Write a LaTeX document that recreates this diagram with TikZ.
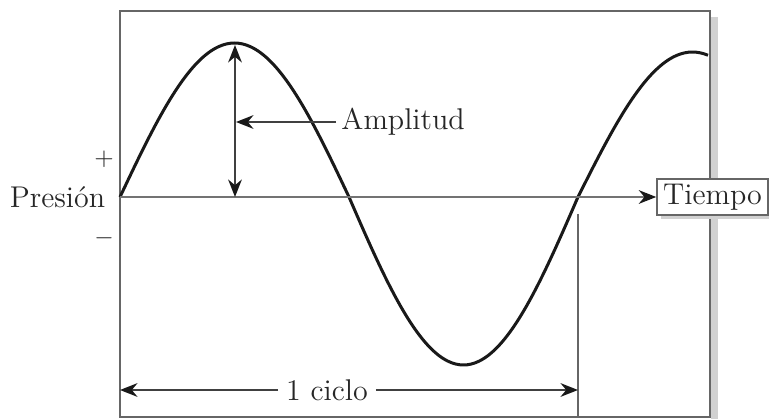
\documentclass[tikz,border=0pt]{standalone}
\usepackage{tikz}
\usetikzlibrary{arrows.meta,positioning,calc}

\begin{document}
\begin{tikzpicture}[
    x=0.4pt, y=-0.4pt,
    every node/.style={font=\fontsize{12}{14}\selectfont, text=black!85},
    frame/.style={draw=black!60, line width=0.8pt},
    shadow/.style={fill=black!18, draw=none},
    wave/.style={draw=black!90, line width=1.2pt},
    axis/.style={draw=black!55, line width=0.8pt, -{Stealth[length=7pt,width=5.5pt,black!90]}},
    dimline/.style={draw=black!75, line width=0.6pt, -{Stealth[length=7pt,width=5.5pt,black!90]}},
    tag/.style={rectangle, draw=black!60, line width=0.6pt, fill=white, minimum width=44.4pt, minimum height=14.4pt, inner sep=1pt}
]
\useasboundingbox (0,0) rectangle (769,419);

% frame with its shadow
\path[shadow] (711,17) rectangle (718,419);
\draw[frame] (120,11) rectangle (710,417);

\coordinate (origin) at (120,197);
\coordinate (peak) at (235,45);
\coordinate (cross) at (578,197);

% pressure wave
\draw[wave] plot[domain=0:588, samples=150, smooth]
    ({120+\x}, {197-(\x<229 ? 154 : (\x<458 ? 168 : 145))*sin(0.786026*\x)});

% time axis and its label
\path[shadow] (661,183) rectangle (772,219);
\node[tag] (tiempo) at (712.5,197) {Tiempo};
\draw[axis] (origin) -- (tiempo.west);

\node[anchor=east] (presion) at (114,197) {Presión};
\node[font=\fontsize{10}{12}\selectfont] (mas) at (104,159) {+};
\node[font=\fontsize{10}{12}\selectfont] (menos) at (104,238) {$-$};

% amplitude
\coordinate (base) at (235,197);
\draw[dimline] ($(base)!0.5!(peak)$) -- (peak);
\draw[dimline] ($(base)!0.5!(peak)$) -- (base);
\node[anchor=west, inner sep=2pt] (amplitud) at (336,122) {Amplitud};
\draw[dimline] (amplitud.west) -- (236,122);

% one cycle
\draw[frame, line width=0.6pt] (578,214) -- (578,417);
\node[inner sep=3pt] (ciclo) at (327,390) {1 ciclo};
\draw[dimline] (ciclo.west) -- (120,390);
\draw[dimline] (ciclo.east) -- (578,390);
\end{tikzpicture}
\end{document}
